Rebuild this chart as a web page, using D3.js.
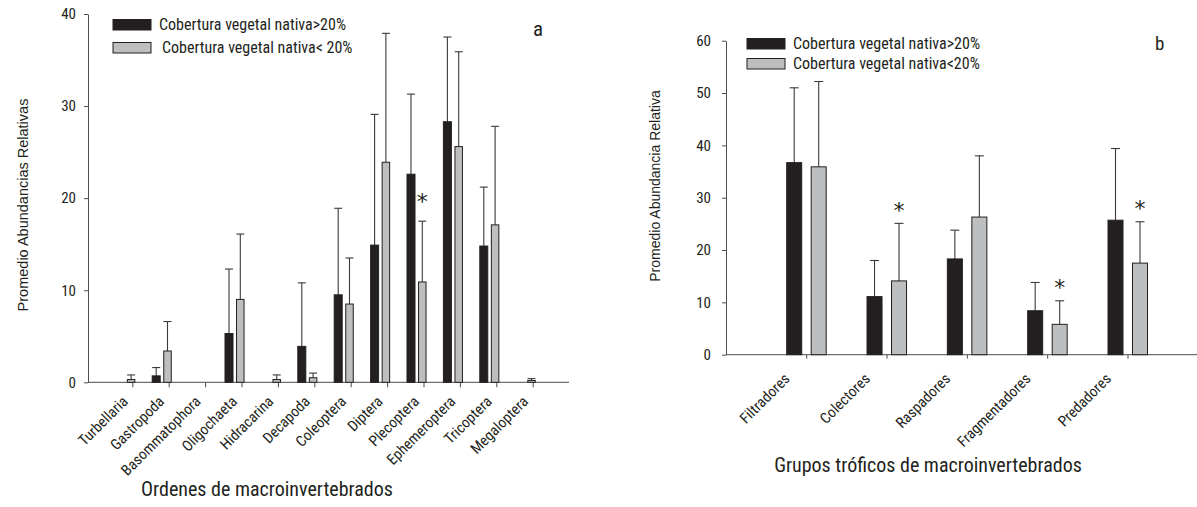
<!DOCTYPE html>
<html><head><meta charset="utf-8">
<script src="https://cdn.jsdelivr.net/npm/d3@7/dist/d3.min.js"></script>
<style>
html,body{margin:0;padding:0;background:#fff;}
svg{display:block;}
</style></head>
<body>
<svg id="chart" width="1197" height="507"></svg>
<script>
// ---------- Panel a data ----------
const categoriesA = ["Turbellaria","Gastropoda","Basommatophora","Oligochaeta","Hidracarina","Decapoda","Coleoptera","Diptera","Plecoptera","Ephemeroptera","Tricoptera","Megaloptera"];
const meanHighA  = [0, 0.7, 0, 5.3, 0, 3.9, 9.5, 14.9, 22.6, 28.3, 14.8, 0];
const upperHighA = [0, 1.6, 0, 12.3, 0, 10.8, 18.9, 29.1, 31.3, 37.5, 21.2, 0];
const meanLowA   = [0.3, 3.4, 0, 9.0, 0.3, 0.5, 8.5, 23.9, 10.9, 25.6, 17.1, 0.2];
const upperLowA  = [0.8, 6.6, 0, 16.1, 0.8, 1.0, 13.5, 37.9, 17.5, 35.9, 27.8, 0.4];
const signifA    = ["Plecoptera"];
const ticksA = [0, 10, 20, 30, 40];

// ---------- Panel b data ----------
const categoriesB = ["Filtradores","Colectores","Raspadores","Fragmentadores","Predadores"];
const meanHighB  = [36.7, 11.1, 18.3, 8.4, 25.7];
const upperHighB = [51.0, 18.0, 23.8, 13.8, 39.4];
const meanLowB   = [35.9, 14.1, 26.3, 5.8, 17.5];
const upperLowB  = [52.2, 25.1, 38.0, 10.3, 25.4];
const signifB    = ["Colectores","Fragmentadores","Predadores"];
const ticksB = [0, 10, 20, 30, 40, 50, 60];

const legendA = ["Cobertura vegetal nativa>20%", "Cobertura vegetal nativa< 20%"];
const legendB = ["Cobertura vegetal nativa>20%", "Cobertura vegetal nativa<20%"];

const DARK = "#231f20", GRAY = "#bcbec0", AX = "#4d4d4d";
const NARROW = '"Liberation Sans Narrow","Roboto Condensed","DejaVu Sans Condensed",sans-serif';
const svg = d3.select("#chart");
svg.append("rect").attr("width",1197).attr("height",507).attr("fill","#fff");

function panel(cfg){
  const g = svg.append("g");
  const y = d3.scaleLinear().domain([0, cfg.ymax]).range([cfg.y0, cfg.y1]);
  const x = d3.scalePoint().domain(cfg.cats).range([cfg.xFirst, cfg.xLast]);

  // y axis
  const ya = g.append("g").attr("transform",`translate(${cfg.axisX},0)`)
    .call(d3.axisLeft(y).tickValues(cfg.ticks).tickSize(4).tickPadding(cfg.tickPad).tickSizeOuter(0));
  ya.select(".domain").attr("stroke",AX);
  ya.selectAll(".tick line").attr("stroke",AX);
  ya.selectAll("text").attr("font-family",NARROW).attr("font-size",15).attr("fill","#231f20");

  // x axis
  const xa = g.append("g").attr("transform",`translate(0,${cfg.y0})`)
    .call(d3.axisBottom(x).tickSize(cfg.xTick).tickSizeOuter(0));
  xa.select(".domain").attr("d",`M${cfg.axisX},0H${cfg.xEnd}`).attr("stroke",AX);
  xa.selectAll(".tick line").attr("stroke",AX);
  xa.selectAll("text").attr("font-family",NARROW).attr("font-size",cfg.catFont).attr("fill","#231f20")
    .attr("text-anchor","end").attr("x",0).attr("y",0).attr("dy",0)
    .attr("transform",`translate(${cfg.lblDx},${cfg.lblDy}) rotate(-45)`);

  const rows = cfg.cats.map((c,i)=>({c, mh:cfg.mh[i], uh:cfg.uh[i], ml:cfg.ml[i], ul:cfg.ul[i]}));
  const series = [
    {key:"h", fill:DARK, off:cfg.offH, w:cfg.wH},
    {key:"l", fill:GRAY, off:cfg.offL, w:cfg.wL}
  ];
  series.forEach(s=>{
    const data = rows.filter(r=>r["m"+s.key] > 0);
    const sg = g.append("g");
    sg.selectAll("line.err").data(data.filter(r=>r["u"+s.key] > r["m"+s.key])).join("line")
      .attr("x1",r=>x(r.c)+s.off).attr("x2",r=>x(r.c)+s.off)
      .attr("y1",r=>y(r["m"+s.key])).attr("y2",r=>y(r["u"+s.key]))
      .attr("stroke","#3a3a3a").attr("stroke-width",1.1);
    sg.selectAll("line.cap").data(data.filter(r=>r["u"+s.key] > r["m"+s.key])).join("line")
      .attr("x1",r=>x(r.c)+s.off-cfg.cap/2).attr("x2",r=>x(r.c)+s.off+cfg.cap/2)
      .attr("y1",r=>y(r["u"+s.key])).attr("y2",r=>y(r["u"+s.key]))
      .attr("stroke","#3a3a3a").attr("stroke-width",1.1);
    sg.selectAll("rect").data(data).join("rect")
      .attr("x",r=>x(r.c)+s.off-s.w/2).attr("width",s.w)
      .attr("y",r=>y(r["m"+s.key])).attr("height",r=>cfg.y0-y(r["m"+s.key]))
      .attr("fill",s.fill).attr("stroke",DARK).attr("stroke-width",1);
  });

  // significance asterisks
  g.selectAll("text.sig").data(rows.filter(r=>cfg.sig.includes(r.c))).join("text")
    .attr("x",r=>x(r.c)+cfg.offL).attr("y",r=>y(r.ul)-cfg.sigGap+12)
    .attr("text-anchor","middle").attr("font-family","DejaVu Sans, sans-serif")
    .attr("font-size",22).attr("fill","#231f20").text("*");

  // legend
  cfg.legend.forEach((t,i)=>{
    const ly = cfg.legY + i*cfg.legStep;
    g.append("rect").attr("x",cfg.legX).attr("y",ly).attr("width",38).attr("height",10.5)
      .attr("fill", i===0?DARK:GRAY).attr("stroke",DARK).attr("stroke-width",1);
    g.append("text").attr("x",cfg.legX+46+(i===1?cfg.leg2dx:0)).attr("y",ly+10)
      .attr("font-family",NARROW).attr("font-size",16).attr("fill","#231f20").text(t);
  });

  // panel letter
  g.append("text").attr("x",cfg.letterX).attr("y",cfg.letterY).attr("font-family",NARROW)
    .attr("font-size",cfg.letterSize).attr("fill","#231f20").text(cfg.letter);

  // y title
  g.append("text").attr("transform",`translate(${cfg.yTitleX},${cfg.yTitleY}) rotate(-90)`)
    .attr("text-anchor","middle").attr("font-family","Liberation Sans, Arial, sans-serif")
    .attr("font-size",cfg.yTitleSize).attr("fill","#231f20").text(cfg.yTitle);

  // x title
  g.append("text").attr("x",cfg.xTitleX).attr("y",cfg.xTitleY).attr("text-anchor","middle")
    .attr("font-family",NARROW).attr("font-size",20).attr("fill","#231f20").text(cfg.xTitle);
}

panel({
  cats:categoriesA, mh:meanHighA, uh:upperHighA, ml:meanLowA, ul:upperLowA, sig:signifA,
  ymax:40, ticks:ticksA, y0:382.3, y1:14, axisX:88, xEnd:569, xFirst:132.3, xLast:532.7,
  tickPad:8, xTick:5, catFont:15, lblDx:-4, lblDy:20,
  offH:-12.5, wH:8, offL:-1.2, wL:7.5, cap:8, sigGap:24,
  legend:legendA, legX:113, legY:19.5, legStep:23, leg2dx:3,
  letter:"a", letterX:533, letterY:36, letterSize:21,
  yTitle:"Promedio Abundancias Relativas", yTitleX:28, yTitleY:205, yTitleSize:14.5,
  xTitle:"Ordenes de macroinvertebrados", xTitleX:267, xTitleY:496
});

panel({
  cats:categoriesB, mh:meanHighB, uh:upperHighB, ml:meanLowB, ul:upperLowB, sig:signifB,
  ymax:60, ticks:ticksB, y0:354.7, y1:40.7, axisX:726, xEnd:1197, xFirst:806.2, xLast:1127.5,
  tickPad:11, xTick:4, catFont:15, lblDx:-16, lblDy:25,
  offH:-12, wH:15, offL:12.5, wL:15, cap:9, sigGap:17.5,
  legend:legendB, legX:747, legY:38.5, legStep:20, leg2dx:0,
  letter:"b", letterX:1155, letterY:50, letterSize:19,
  yTitle:"Promedio Abundancia Relativa", yTitleX:660, yTitleY:186, yTitleSize:14,
  xTitle:"Grupos tróficos de macroinvertebrados", xTitleX:928, xTitleY:472
});
</script>
</body></html>
